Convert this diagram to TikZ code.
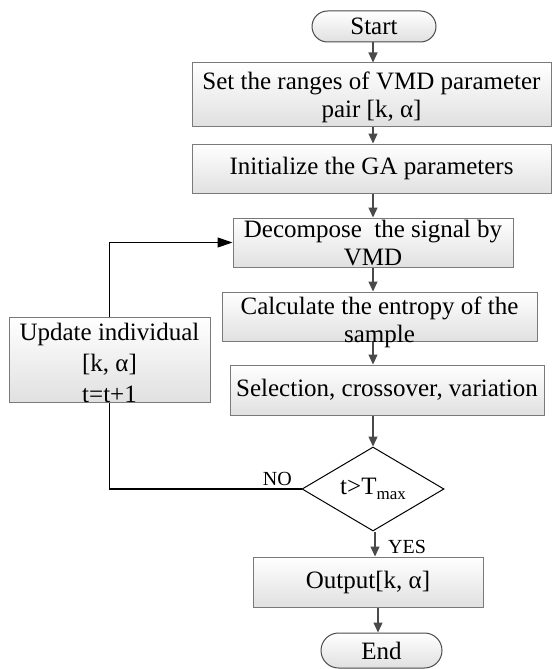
\documentclass[tikz,border=0pt]{standalone}
\usepackage{fontspec}
\setmainfont{Liberation Serif}
\usetikzlibrary{arrows.meta,shapes.geometric,shapes.misc}
\definecolor{boxline}{HTML}{7A7A7A}
\definecolor{arrowgray}{HTML}{4A4A4A}
\begin{document}
\begin{tikzpicture}[x=1pt,y=-1pt,
  every node/.style={font=\fontsize{25}{28}\selectfont},
  procbox/.style={draw=boxline, line width=1pt, top color=white, bottom color=black!12, inner sep=0pt},
  termbox/.style={procbox, rounded rectangle, draw=arrowgray},
  txt/.style={align=center, inner sep=0pt},
  lbl/.style={inner sep=0pt, font=\fontsize{20}{22}\selectfont},
  garrow/.style={draw=arrowgray, line width=1.2pt, -{Triangle[length=10pt,width=9pt]}},
  bline/.style={draw=black, line width=1.1pt},
  barrow/.style={bline, -{Triangle[length=15pt,width=10pt]}}]
\useasboundingbox (0,0) rectangle (552,669);
\fill[white] (0,0) rectangle (552,669);

\coordinate (ax1) at (373,0);
\coordinate (ax2) at (375,0);
\coordinate (ax3) at (378,0);

% nodes
\node[termbox, minimum width=124pt, minimum height=31pt] (start) at (374,26.5) {};
\node[txt] at (start.center) {Start};

\node[procbox, minimum width=359pt, minimum height=63pt] (b1) at (371.5,94.5) {};
\node[txt] at ([yshift=-3pt]b1.center) {Set the ranges of VMD parameter\\pair [k, α]};

\node[procbox, minimum width=359pt, minimum height=49pt] (b2) at (371.5,168.5) {};
\node[txt] at (b2.center) {Initialize the GA parameters};

\node[procbox, minimum width=280pt, minimum height=49pt] (b3) at (373,242.5) {};
\node[txt] at ([yshift=-1pt]b3.center) {Decompose\ \ the signal by\\VMD};

\node[procbox, minimum width=315pt, minimum height=49pt] (b4) at (379.5,316.5) {};
\node[txt] at ([yshift=-6pt]b4.center) {Calculate the entropy of the\\sample};

\node[procbox, minimum width=314pt, minimum height=50pt] (b5) at (387,390) {};
\node[txt] at (b5.center) {Selection, crossover, variation};

\node[diamond, draw=black, line width=1pt, fill=white, minimum width=142pt, minimum height=84pt, inner sep=0pt] (dec) at (373,489) {};
\node[txt] at (dec.center) {t>T\raisebox{-5pt}{\fontsize{17}{17}\selectfont max}};

\node[procbox, minimum width=201pt, minimum height=85pt] (upd) at (109.5,359.5) {};
\node[txt, font=\fontsize{25}{31}\selectfont] at ([yshift=-3pt]upd.center) {Update individual\\{}[k, α]\\t=t+1};

\node[procbox, minimum width=230pt, minimum height=50pt] (out) at (368,582) {};
\node[txt] at (out.center) {Output[k, α]};

\node[termbox, minimum width=121pt, minimum height=35pt] (end) at (381.5,650.5) {};
\node[txt] at (end.center) {End};

\node[lbl, anchor=base east] (no) at (292,485) {NO};
\node[lbl, anchor=base west] (yes) at (388,553) {YES};

% connectors
\draw[garrow] (ax1 |- start.south) -- (ax1 |- b1.north);
\draw[garrow] (ax1 |- b1.south) -- (ax1 |- b2.north);
\draw[garrow] (ax1 |- b2.south) -- (ax1 |- b3.north);
\draw[garrow] (ax1 |- b3.south) -- (ax1 |- b4.north);
\draw[garrow] (ax1 |- b4.south) -- (ax1 |- b5.north);
\draw[garrow] (ax1 |- b5.south) -- (dec.north);
\draw[garrow] (ax2 |- dec.south) -- (ax2 |- out.north);
\draw[garrow] (ax3 |- out.south) -- (ax3 |- end.north);

\draw[bline] (dec.west) -- (dec.west -| upd.south) -- (upd.south);
\draw[barrow] (upd.north) |- (b3.west);
\end{tikzpicture}
\end{document}
